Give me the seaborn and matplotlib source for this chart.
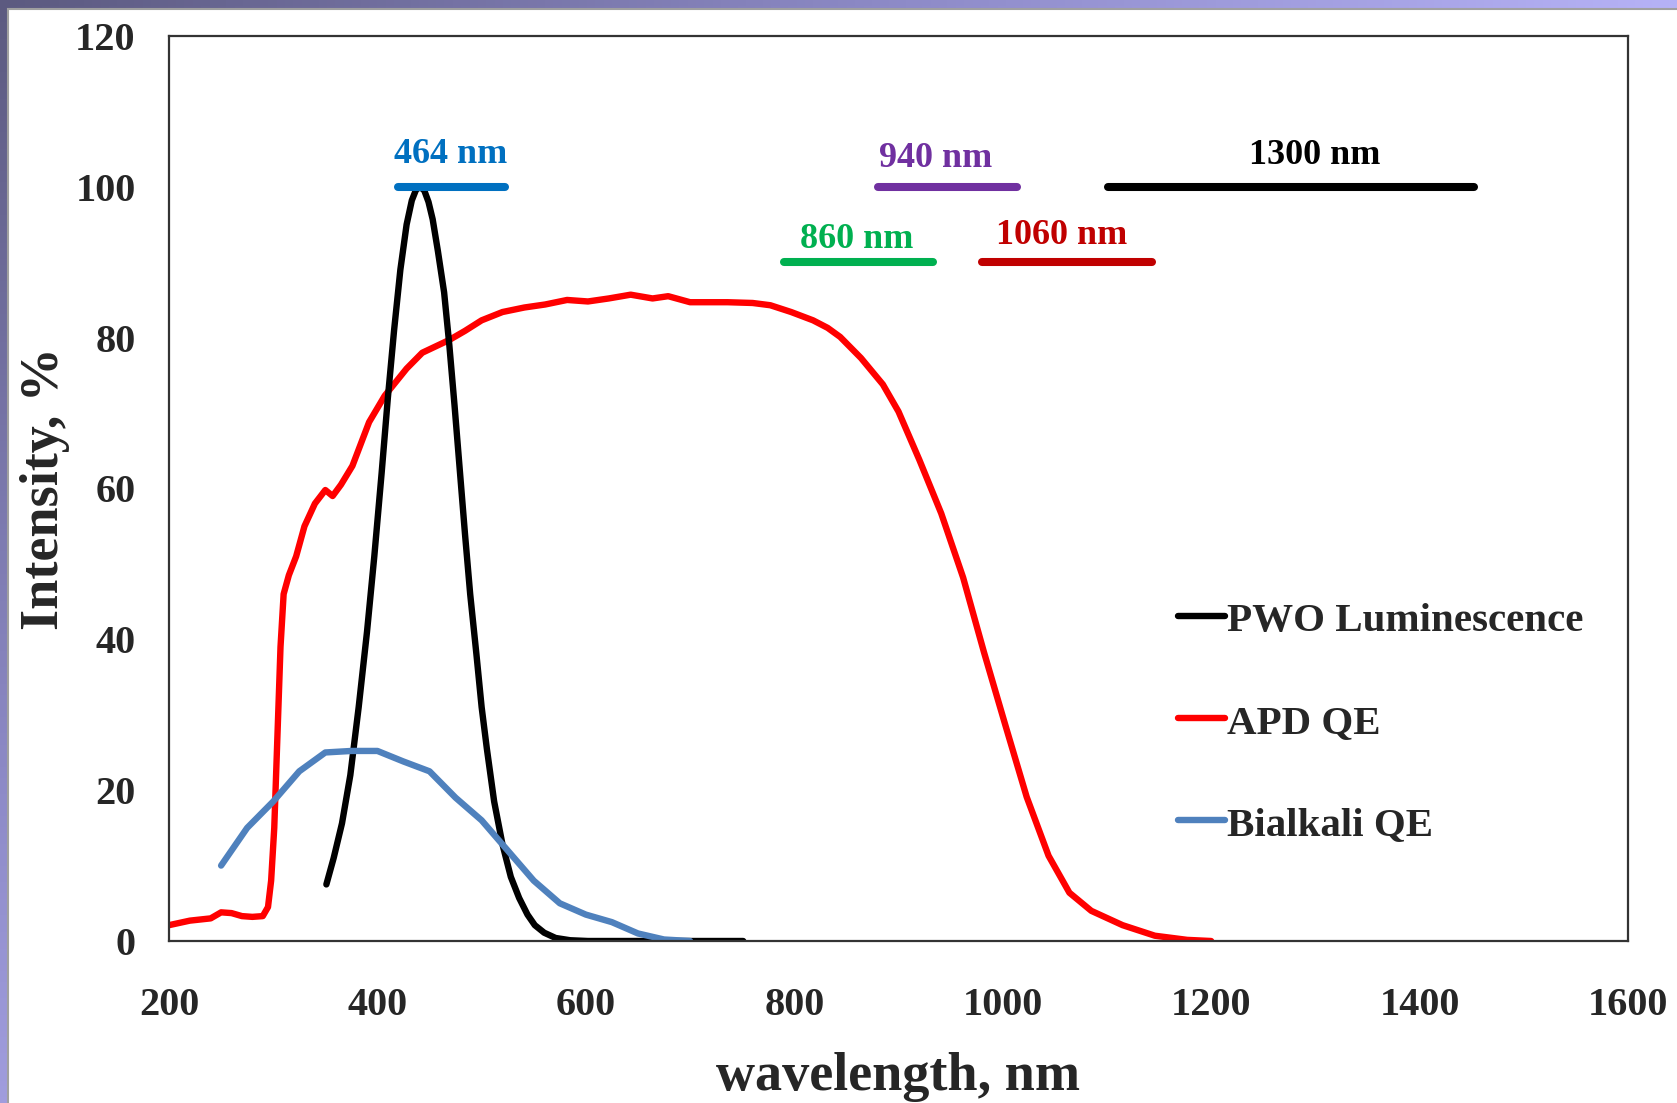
import numpy as np
import pandas as pd
import matplotlib
matplotlib.use("Agg")
import matplotlib.pyplot as plt
import seaborn as sns
from matplotlib.colors import LinearSegmentedColormap
from matplotlib.patches import Rectangle
from matplotlib.lines import Line2D

# ---------------- data ----------------
apd_wl = [200, 220, 240, 250, 260, 270, 280, 290, 295, 298, 301, 304, 307, 310, 315, 322,
          330, 340, 350, 357, 365, 376, 392, 407, 428, 443, 469, 484, 500, 520, 541, 561,
          582, 602, 622, 643, 664, 679, 700, 736, 760, 777, 797, 818, 832, 844, 864, 885, 900, 920,
          941, 962, 982, 1003, 1023, 1044, 1064, 1085, 1115, 1146, 1177, 1200]
apd_qe = [2.1, 2.7, 3.0, 3.8, 3.7, 3.3, 3.2, 3.3, 4.5, 8, 15, 27, 39, 46, 48.5, 51,
          55, 58, 59.8, 59, 60.5, 63, 68.8, 72.3, 75.9, 78, 79.7, 80.9, 82.3, 83.4, 84, 84.4,
          85, 84.8, 85.2, 85.7, 85.2, 85.5, 84.7, 84.7, 84.6, 84.3, 83.4, 82.3, 81.3, 80.1, 77.3, 73.8, 70.2, 63.8,
          56.7, 48.2, 38.3, 28.4, 19.1, 11.3, 6.4, 4.0, 2.1, 0.7, 0.15, 0.0]

pwo_wl = [351, 358, 366, 374, 382, 390, 397, 404, 410, 416, 422, 428, 433, 437, 441, 445,
          449, 453, 458, 464, 469, 474, 479, 484, 489, 495, 500, 505, 512, 520, 528, 536,
          544, 551, 560, 571, 585, 602, 650, 700, 751]
pwo_lum = [7.5, 11, 15.6, 22, 31, 41, 51, 62, 72, 81, 89, 95, 98.2, 99.6, 100, 99.5,
           98, 95.7, 91.5, 86, 79, 71, 62.5, 54, 46, 38, 31, 25.5, 18.5, 12.8, 8.5, 5.7,
           3.5, 2.1, 1.1, 0.4, 0.1, 0.0, 0.0, 0.0, 0.0]

bia_wl = [250, 275, 300, 325, 350, 375, 400, 425, 450, 475, 500, 525, 550, 575, 600, 625,
          650, 675, 700]
bia_qe = [10, 15, 18.5, 22.5, 25, 25.2, 25.2, 23.8, 22.5, 19, 16, 12, 8, 5, 3.5, 2.5,
          1.0, 0.2, 0.0]

band_labels = ["464 nm", "940 nm", "1300 nm", "860 nm", "1060 nm"]
band_start = [420, 880, 1101, 790, 980]
band_end = [522, 1014, 1452, 933, 1143]
band_level = [100, 100, 100, 90, 90]
band_label_x = [470, 936, 1299, 860, 1057]
band_label_y = [104.3, 103.7, 104.1, 93.05, 93.6]
band_colors = ["#0070C0", "#7030A0", "#000000", "#00B050", "#C00000"]

series_names = ["PWO Luminescence", "APD QE", "Bialkali QE"]
series_colors = ["#000000", "#FF0000", "#4F81BD"]

x_ticks = [200, 400, 600, 800, 1000, 1200, 1400, 1600]
y_ticks = [0, 20, 40, 60, 80, 100, 120]

# ---------------- style ----------------
sns.set_style("white")
plt.rcParams["font.family"] = ["Liberation Serif", "DejaVu Serif"]
plt.rcParams["font.weight"] = "bold"

W, H = 1677, 1103
fig = plt.figure(figsize=(W / 100, H / 100), dpi=100)

# slide-like background border
bg = fig.add_axes([0, 0, 1, 1], zorder=-10)
gx, gy = np.meshgrid(np.linspace(0, 1, 200), np.linspace(0, 1, 200))
grad = np.clip((gx * 1.2 + gy * 0.9) / 1.3, 0, 1)
cmap = LinearSegmentedColormap.from_list("bgc", ["#5C5A80", "#8E8BC8", "#BDB9FF"])
bg.imshow(grad, cmap=cmap, extent=[0, 1, 0, 1], aspect="auto", origin="upper")
bg.add_patch(Rectangle((8 / W, -0.01), 1.02, 1 - 9 / H + 0.01, transform=bg.transAxes,
                       facecolor="white", edgecolor="#A0A0A0", linewidth=1.5))
bg.set_xlim(0, 1)
bg.set_ylim(0, 1)
bg.axis("off")

ax = fig.add_axes([169 / W, 1 - 941 / H, (1628 - 169) / W, (941 - 36) / H])
ax.set_facecolor("none")

df_pwo = pd.DataFrame({"wl": pwo_wl, "v": pwo_lum})
df_apd = pd.DataFrame({"wl": apd_wl, "v": apd_qe})
df_bia = pd.DataFrame({"wl": bia_wl, "v": bia_qe})

lw = 4.6
sns.lineplot(data=df_apd, x="wl", y="v", ax=ax, color=series_colors[1], linewidth=lw,
             sort=False, solid_capstyle="round", solid_joinstyle="round")
sns.lineplot(data=df_pwo, x="wl", y="v", ax=ax, color=series_colors[0], linewidth=lw,
             sort=False, solid_capstyle="round", solid_joinstyle="round")
sns.lineplot(data=df_bia, x="wl", y="v", ax=ax, color=series_colors[2], linewidth=lw,
             sort=False, solid_capstyle="round", solid_joinstyle="round")

# wavelength bands
for s, e, lv, c in zip(band_start, band_end, band_level, band_colors):
    ax.plot([s, e], [lv, lv], color=c, linewidth=5.8, solid_capstyle="round", zorder=5)
for lab, lx, ly, c in zip(band_labels, band_label_x, band_label_y, band_colors):
    ax.text(lx, ly, lab, color=c, fontsize=26, fontweight="bold",
            ha="center", va="center")

ax.set_xlim(200, 1600)
ax.set_ylim(0, 120)
ax.set_xticks(x_ticks)
ax.set_yticks(y_ticks)
ax.tick_params(axis="both", direction="out", length=8, width=1.3, color="#888888",
               labelsize=29)
ax.tick_params(axis="x", pad=25)
ax.tick_params(axis="y", pad=16)
for lbl in ax.get_xticklabels() + ax.get_yticklabels():
    lbl.set_fontweight("bold")
for sp in ax.spines.values():
    sp.set_visible(True)
    sp.set_color("#333333")
    sp.set_linewidth(1.6)

ax.set_xlabel("wavelength, nm", fontsize=39, fontweight="bold", labelpad=20)
ax.set_ylabel("Intensity, %", fontsize=39, fontweight="bold", labelpad=4)

handles = [Line2D([0], [0], color=c, linewidth=lw, solid_capstyle="round") for c in series_colors]
leg = fig.legend(handles, series_names, loc="upper left",
                 bbox_to_anchor=(1178 / W, 1 - 602 / H), frameon=False,
                 fontsize=29.5, handlelength=1.15, handletextpad=0.05,
                 labelspacing=1.57, borderpad=0, borderaxespad=0)
for t in leg.get_texts():
    t.set_fontweight("bold")

fig.savefig("out.png", dpi=100)
